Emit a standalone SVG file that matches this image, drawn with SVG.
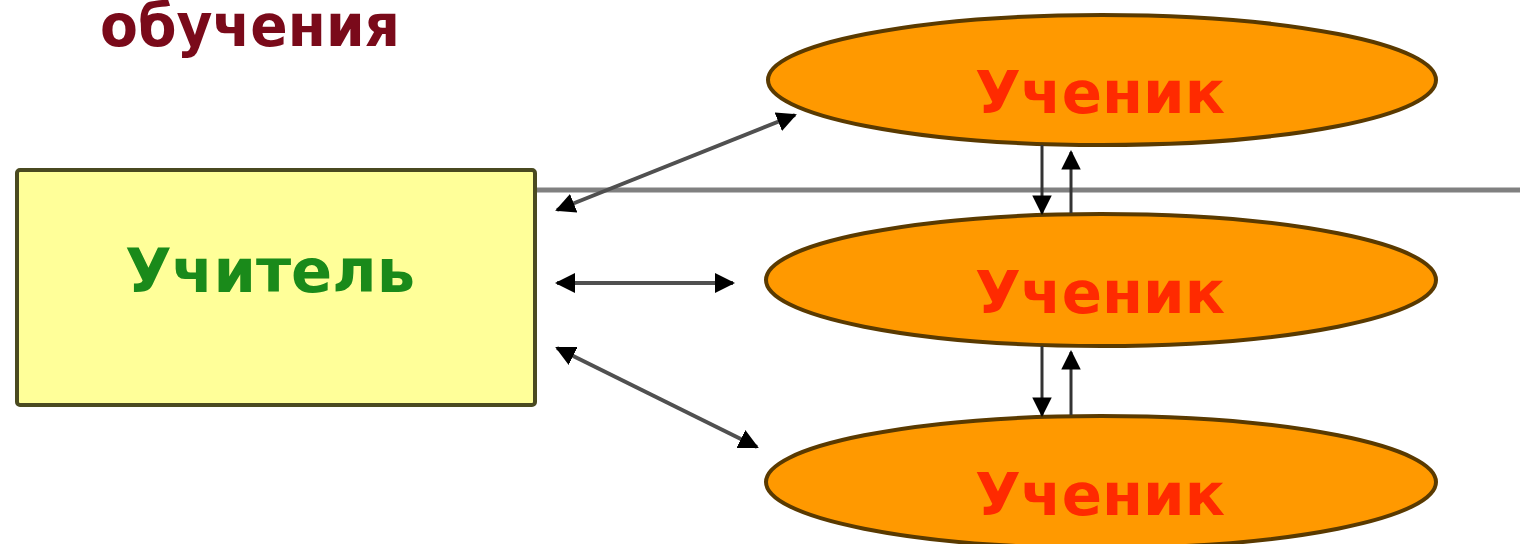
<svg xmlns="http://www.w3.org/2000/svg" width="1520" height="544" viewBox="0 0 1520 544">
<style>
.ell{fill:#ff9900;stroke:#5a3a00;stroke-width:4}
.st{font-family:"DejaVu Sans","Liberation Sans",sans-serif;font-weight:bold;font-size:58px;fill:#ff2a00}
.con{stroke:#505050;stroke-width:4;fill:none;marker-start:url(#ah);marker-end:url(#ah)}
.v{stroke:#333;stroke-width:3;fill:none;marker-end:url(#ah2)}
</style>
<defs>
<marker id="ah" viewBox="0 0 10 10" refX="9" refY="5" markerWidth="5" markerHeight="5" orient="auto-start-reverse" markerUnits="strokeWidth">
<path d="M0,0 L10,5 L0,10 z" fill="#000"/>
</marker>
<marker id="ah2" viewBox="0 0 10 10" refX="9" refY="5" markerWidth="6.5" markerHeight="6.5" orient="auto" markerUnits="strokeWidth">
<path d="M0,0 L10,5 L0,10 z" fill="#000"/>
</marker>
</defs>
<rect width="1520" height="544" fill="#fff"/>
<text id="title" x="100" y="46" font-family="'DejaVu Sans','Liberation Sans',sans-serif" font-weight="bold" font-size="58" fill="#7a0a1a" textLength="300" lengthAdjust="spacingAndGlyphs">обучения</text>
<line x1="535" y1="190" x2="1520" y2="190" stroke="#808080" stroke-width="5"/>
<g id="teacher">
<rect x="17" y="170" width="518" height="235" fill="#ffff99" stroke="#4a4a20" stroke-width="4" rx="3"/>
<text x="125" y="292" font-family="'DejaVu Sans','Liberation Sans',sans-serif" font-weight="bold" font-size="60" fill="#1a8a1a" textLength="290" lengthAdjust="spacingAndGlyphs">Учитель</text>
</g>
<g id="student1">
<ellipse class="ell" cx="1102" cy="80" rx="334" ry="65"/>
<text class="st" x="975" y="113" textLength="250" lengthAdjust="spacingAndGlyphs">Ученик</text>
</g>
<g id="student2">
<ellipse class="ell" cx="1101" cy="280" rx="335" ry="66"/>
<text class="st" x="975" y="313" textLength="250" lengthAdjust="spacingAndGlyphs">Ученик</text>
</g>
<g id="student3">
<ellipse class="ell" cx="1101" cy="482" rx="335" ry="66"/>
<text class="st" x="975" y="515" textLength="250" lengthAdjust="spacingAndGlyphs">Ученик</text>
</g>
<g id="connectors">
<line class="con" x1="557" y1="210" x2="795" y2="115"/>
<line class="con" x1="557" y1="283" x2="733" y2="283"/>
<line class="con" x1="557" y1="348" x2="757" y2="447"/>
<line class="v" x1="1042" y1="145" x2="1042" y2="213"/>
<line class="v" x1="1071" y1="213" x2="1071" y2="152"/>
<line class="v" x1="1042" y1="346" x2="1042" y2="415"/>
<line class="v" x1="1071" y1="415" x2="1071" y2="352"/>
</g>
</svg>
